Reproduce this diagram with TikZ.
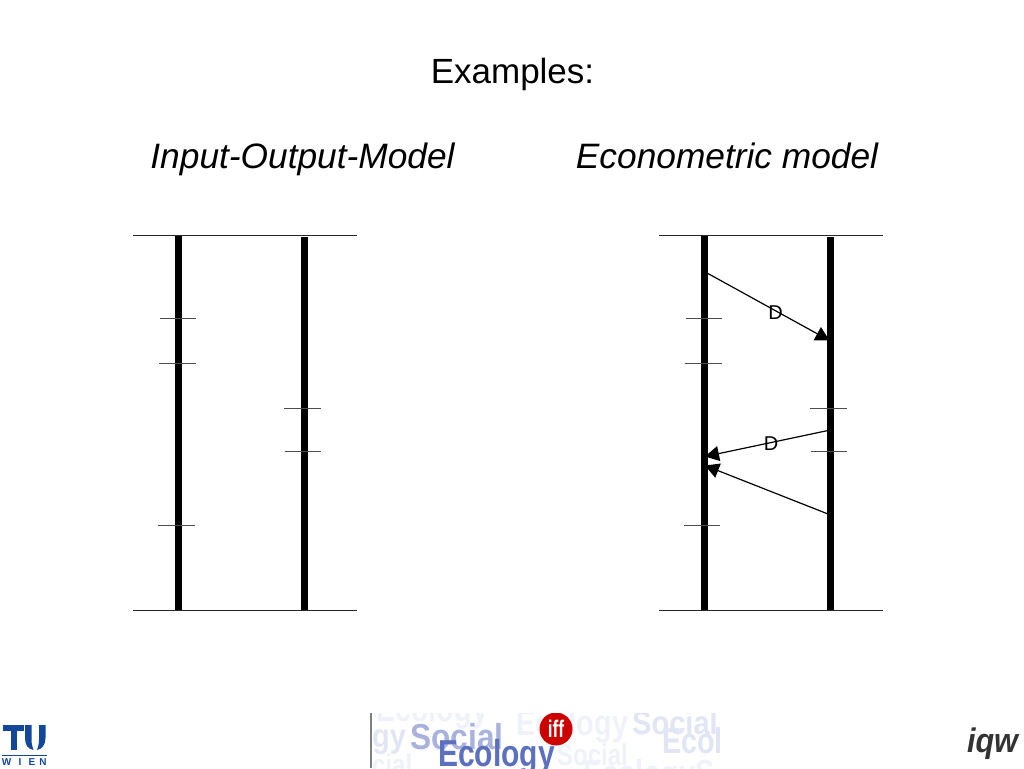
\documentclass[tikz,border=0pt]{standalone}
\usepackage{fontspec}
\setmainfont{Liberation Sans}
\usetikzlibrary{arrows.meta}
\tikzset{
  axis/.style={line width=7pt,black},
  rule/.style={line width=1.2pt,black!85},
  tick/.style={line width=1.1pt,black!70},
  flow/.style={line width=1.2pt,black,-{Triangle[length=14pt,width=15pt]}},
  head/.style={font=\itshape\fontsize{35.3}{40}\selectfont,text=black,inner sep=0pt,anchor=base},
  dlab/.style={font=\fontsize{20}{24}\selectfont,text=black,inner sep=0pt},
  wien/.style={font=\bfseries\fontsize{10}{11}\selectfont,text=tublue,inner sep=0pt},
  logo/.style={font=\bfseries\fontsize{#1}{#1}\selectfont,inner sep=0pt,anchor=base west,xscale=0.8,transform shape},
}
\definecolor{tublue}{HTML}{12479C}
\definecolor{eA}{HTML}{F0F2F9}
\definecolor{eB}{HTML}{E2E5F3}
\definecolor{eC}{HTML}{A9B2DC}
\definecolor{eD}{HTML}{5C70C0}
\begin{document}
\begin{tikzpicture}[x=1pt,y=-1pt]
\useasboundingbox[fill=white] (0,0) rectangle (1024,768);
\node[font=\fontsize{35}{40}\selectfont,inner sep=0pt,anchor=base] (title) at (512.5,83) {Examples:};
\node[head] (h1) at (302.5,168) {Input-Output-Model};
\node[head] (h2) at (727,168) {Econometric model};

% left model
\coordinate (a1t) at (178.5,235); \coordinate (a1b) at (178.5,610);
\coordinate (a2t) at (304.5,237); \coordinate (a2b) at (304.5,611);
\coordinate (r1a) at (133,235.5); \coordinate (r1b) at (357,235.5);
\coordinate (r2a) at (133,610.5); \coordinate (r2b) at (357,610.5);
\draw[axis] (a1t) -- (a1b);
\draw[axis] (a2t) -- (a2b);
\draw[rule] (r1a) -- (r1b);
\draw[rule] (r2a) -- (r2b);
\coordinate (la1) at (160,318.5); \coordinate (lb1) at (196,318.5);
\coordinate (la2) at (159,363.5); \coordinate (lb2) at (196,363.5);
\coordinate (la3) at (158,525.5); \coordinate (lb3) at (195,525.5);
\coordinate (la4) at (284,408.5); \coordinate (lb4) at (321,408.5);
\coordinate (la5) at (285,451.5); \coordinate (lb5) at (321,451.5);
\foreach \i in {1,...,5} \draw[tick] (la\i) -- (lb\i);

% right model
\coordinate (b1t) at (704.5,235); \coordinate (b1b) at (704.5,610);
\coordinate (b2t) at (830.5,237); \coordinate (b2b) at (830.5,611);
\coordinate (s1a) at (659,235.5); \coordinate (s1b) at (883,235.5);
\coordinate (s2a) at (659,610.5); \coordinate (s2b) at (883,610.5);
\draw[axis] (b1t) -- (b1b);
\draw[axis] (b2t) -- (b2b);
\draw[rule] (s1a) -- (s1b);
\draw[rule] (s2a) -- (s2b);
\coordinate (ra1) at (686,318.5); \coordinate (rb1) at (722,318.5);
\coordinate (ra2) at (685,363.5); \coordinate (rb2) at (722,363.5);
\coordinate (ra3) at (684,525.5); \coordinate (rb3) at (720,525.5);
\coordinate (ra4) at (810,408.5); \coordinate (rb4) at (847,408.5);
\coordinate (ra5) at (811,451.5); \coordinate (rb5) at (847,451.5);
\foreach \i in {1,...,5} \draw[tick] (ra\i) -- (rb\i);

\coordinate (f1s) at (707,273); \coordinate (f1e) at (829.5,340.5);
\coordinate (f2s) at (828,430.5); \coordinate (f2e) at (705,456.5);
\coordinate (f3s) at (828,514); \coordinate (f3e) at (705,465.5);
\draw[flow] (f1s) -- (f1e);
\draw[flow] (f2s) -- (f2e);
\draw[flow] (f3s) -- (f3e);
\node[dlab] (d1) at (775.5,313) {D};
\node[dlab] (d2) at (771,443.5) {D};

% TU Wien logo
\fill[tublue] (3,725) rectangle (24,730.5);
\fill[tublue] (10.5,725) rectangle (17,750);
\fill[tublue] (25,725) -- (31.5,725) -- (31.5,740) .. controls (31.5,745) and (33,748) .. (33.5,750) .. controls (28,749) and (25,745) .. (25,738) -- cycle;
\fill[tublue] (45.5,725) -- (39,725) -- (39,740) .. controls (39,745) and (37.5,748) .. (37,750) .. controls (42,749) and (45.5,745) .. (45.5,738) -- cycle;
\draw[tublue,line width=1pt] (2,755) -- (47,755);
\node[wien] (w1) at (6.5,762.5) {W};
\node[wien] (w2) at (20,762.5) {I};
\node[wien] (w3) at (32,762.5) {E};
\node[wien] (w4) at (43,762.5) {N};

% Social Ecology logo
\begin{scope}
\clip (370,713) rectangle (724,768);
\draw[black!50,line width=1.5pt] (370.8,713) -- (370.8,768);
\node[logo=36,text=eA] (e1) at (376,721) {Ecology};
\node[logo=36,text=eA] (e2) at (516,735) {Ecology};
\node[logo=33,text=eB,xscale=1.1] (e3) at (372,747) {gy};
\node[logo=33,text=eB,xscale=1.1] (e4) at (632,734) {Social};
\node[logo=36,text=eB] (e5) at (662,753) {Ecol};
\node[logo=30,text=eA] (e6) at (372,775) {cial};
\node[logo=30,text=eA] (e7) at (557,765) {Social};
\node[logo=36,text=eA] (e8) at (583,785) {EcologyS};
\node[logo=36,text=eC,xscale=1.1] (e9) at (410,749) {Social};
\node[logo=37.5,text=eD] (e10) at (438,766) {Ecology};
\node[circle,fill=red!80!black,minimum size=33pt,inner sep=0pt] (iff) at (556,729) {};
\node[font=\bfseries\fontsize{24}{24}\selectfont,text=white,inner sep=0pt,xscale=0.72] (ifft) at (iff) {iff};
\end{scope}

% iqw logo
\node[font=\bfseries\itshape\fontsize{34}{34}\selectfont,text=black!80,inner sep=0pt,anchor=base,xscale=0.9] (iqw) at (992.5,752) {iqw};
\end{tikzpicture}
\end{document}
